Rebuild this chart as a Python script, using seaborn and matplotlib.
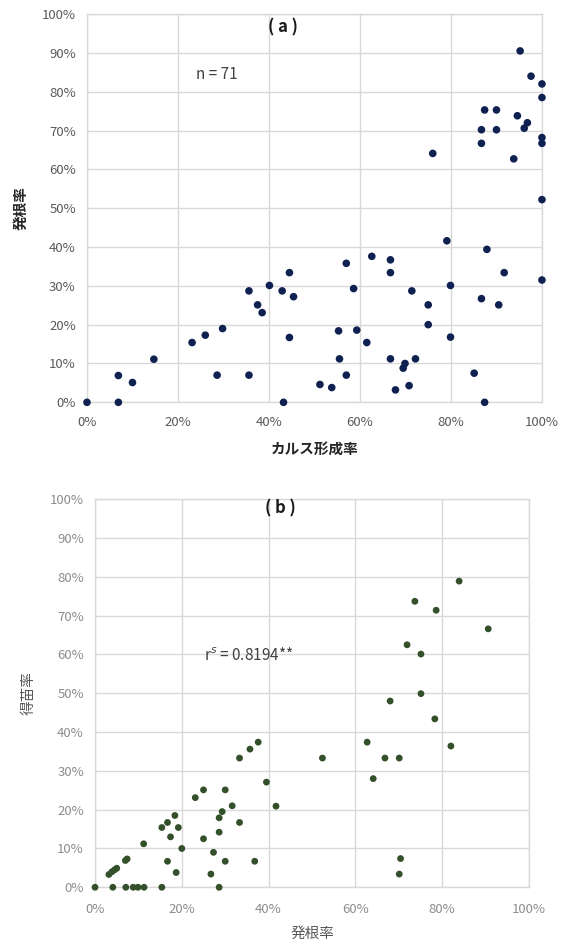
import matplotlib
matplotlib.use("Agg")
import matplotlib.pyplot as plt
from matplotlib.ticker import PercentFormatter, MultipleLocator
import seaborn as sns
import pandas as pd

# (a) callus formation rate vs rooting rate, in %
callus_rate = [0, 6.9, 6.9, 10.0, 14.7, 23.1, 26.0, 29.8, 28.6, 35.6, 35.6, 37.5, 38.5, 40.1,
               42.9, 44.5, 45.4, 44.5, 43.2, 100, 79.1, 87.9, 62.6, 66.7, 57.0, 66.7, 91.7,
               100, 79.9, 58.6, 71.4, 86.7, 75.0, 90.5, 75.0, 55.3, 59.3, 79.9, 61.5, 55.5,
               66.7, 72.2, 69.9, 69.5, 57.0, 85.1, 51.2, 53.8, 67.8, 70.8, 87.4, 95.2, 97.6,
               100, 100, 87.4, 90.0, 94.6, 96.8, 96.1, 86.7, 90.0, 86.7, 100, 100, 93.8, 76.0]
rooting_a = [0, 6.9, 0, 5.1, 11.1, 15.4, 17.3, 19.0, 7.0, 7.0, 28.7, 25.1, 23.1, 30.1,
             28.7, 33.4, 27.2, 16.7, 0, 52.2, 41.6, 39.4, 37.6, 36.7, 35.8, 33.4, 33.4,
             31.5, 30.1, 29.3, 28.7, 26.7, 25.1, 25.1, 20.0, 18.4, 18.6, 16.8, 15.4, 11.2,
             11.2, 11.2, 10.0, 8.8, 7.0, 7.5, 4.6, 3.8, 3.2, 4.3, 0, 90.5, 84.0,
             82.0, 78.5, 75.3, 75.3, 73.8, 72.0, 70.6, 70.2, 70.2, 66.7, 68.2, 66.7, 62.7, 64.1]

# (b) rooting rate vs plantlet rate, in %
rooting_b = [0, 4.1, 7.1, 8.8, 9.9, 11.3, 15.4, 28.6, 3.2, 3.9, 4.5, 5.0, 7.0, 7.4, 11.2,
             15.4, 16.7, 18.4, 19.2, 17.4, 20.0, 16.7, 18.7, 23.1, 25.0, 25.0, 27.3, 26.7,
             30.0, 29.3, 28.6, 28.6, 31.6, 30.0, 33.3, 35.7, 37.6, 33.3, 39.5, 36.8, 41.7,
             52.4, 62.7, 66.8, 70.1, 64.1, 82.0, 78.3, 68.0, 75.1, 70.4, 70.1,
             83.9, 73.7, 78.6, 90.6, 71.9, 75.1]
plantlet_b = [0, 0, 0, 0, 0, 0, 0, 0, 3.3, 4.0, 4.5, 4.9, 6.9, 7.3, 11.2,
              15.4, 16.7, 18.5, 15.4, 13.0, 10.0, 6.7, 3.8, 23.1, 25.1, 12.5, 9.0, 3.4,
              25.1, 19.5, 17.9, 14.2, 21.0, 6.7, 33.3, 35.6, 37.4, 16.7, 27.1, 6.7, 20.9,
              33.3, 37.4, 33.3, 33.3, 28.0, 36.4, 43.4, 48.0, 49.9, 7.4, 3.4,
              78.9, 73.7, 71.4, 66.6, 62.5, 60.1]

sns.set_theme(style="whitegrid")
plt.rcParams['font.family'] = ['Noto Sans CJK JP', 'DejaVu Sans']

df_a = pd.DataFrame({"x": callus_rate, "y": rooting_a})
df_b = pd.DataFrame({"x": rooting_b, "y": plantlet_b})

fig = plt.figure(figsize=(5.7, 9.42), dpi=100)
ax1 = fig.add_axes([0.1526, 0.5729, 0.7982, 0.4122])
ax2 = fig.add_axes([0.1667, 0.0581, 0.7614, 0.4119])


def style_axes(ax, tick_color, xlabel, ylabel, label_color, bold, xpad):
    ax.set_xlim(0, 100)
    ax.set_ylim(0, 100)
    ax.xaxis.set_major_locator(MultipleLocator(20))
    ax.yaxis.set_major_locator(MultipleLocator(10))
    ax.xaxis.set_major_formatter(PercentFormatter(100, decimals=0))
    ax.yaxis.set_major_formatter(PercentFormatter(100, decimals=0))
    ax.grid(True, color="#d9d9d9", linewidth=1.0)
    for sp in ax.spines.values():
        sp.set_color("#d9d9d9")
        sp.set_linewidth(1.0)
    ax.tick_params(length=0, labelsize=9.5, colors=tick_color)
    ax.tick_params(axis="x", pad=xpad)
    ax.tick_params(axis="y", pad=8)
    w = "bold" if bold else "normal"
    ax.set_xlabel(xlabel, fontsize=10.5, color=label_color, fontweight=w, labelpad=8)
    ax.set_ylabel(ylabel, fontsize=10.5, color=label_color, fontweight=w, labelpad=10)
    ax.set_axisbelow(True)


sns.scatterplot(data=df_a, x="x", y="y", ax=ax1, color="#0f2151", s=30,
                edgecolor="none", clip_on=False, zorder=3)
style_axes(ax1, "#595959", "カルス形成率", "発根率", "#262626", True, 10)
ax1.text(43, 96.5, "( a )", ha="center", va="center", fontsize=12, fontweight="bold", color="#1a1a1a")
ax1.text(28.6, 84.3, "n = 71", ha="center", va="center", fontsize=11, color="#404040")

sns.scatterplot(data=df_b, x="x", y="y", ax=ax2, color="#34502a", s=24,
                edgecolor="none", clip_on=False, zorder=3)
style_axes(ax2, "#8c8c8c", "発根率", "得苗率", "#595959", False, 11)
ax2.text(42.6, 97.5, "( b )", ha="center", va="center", fontsize=12, fontweight="bold", color="#1a1a1a")
ax2.text(35.5, 59.7, "r$^{s}$ = 0.8194**", ha="center", va="center", fontsize=11, color="#404040")

fig.savefig("out.png", dpi=100)
